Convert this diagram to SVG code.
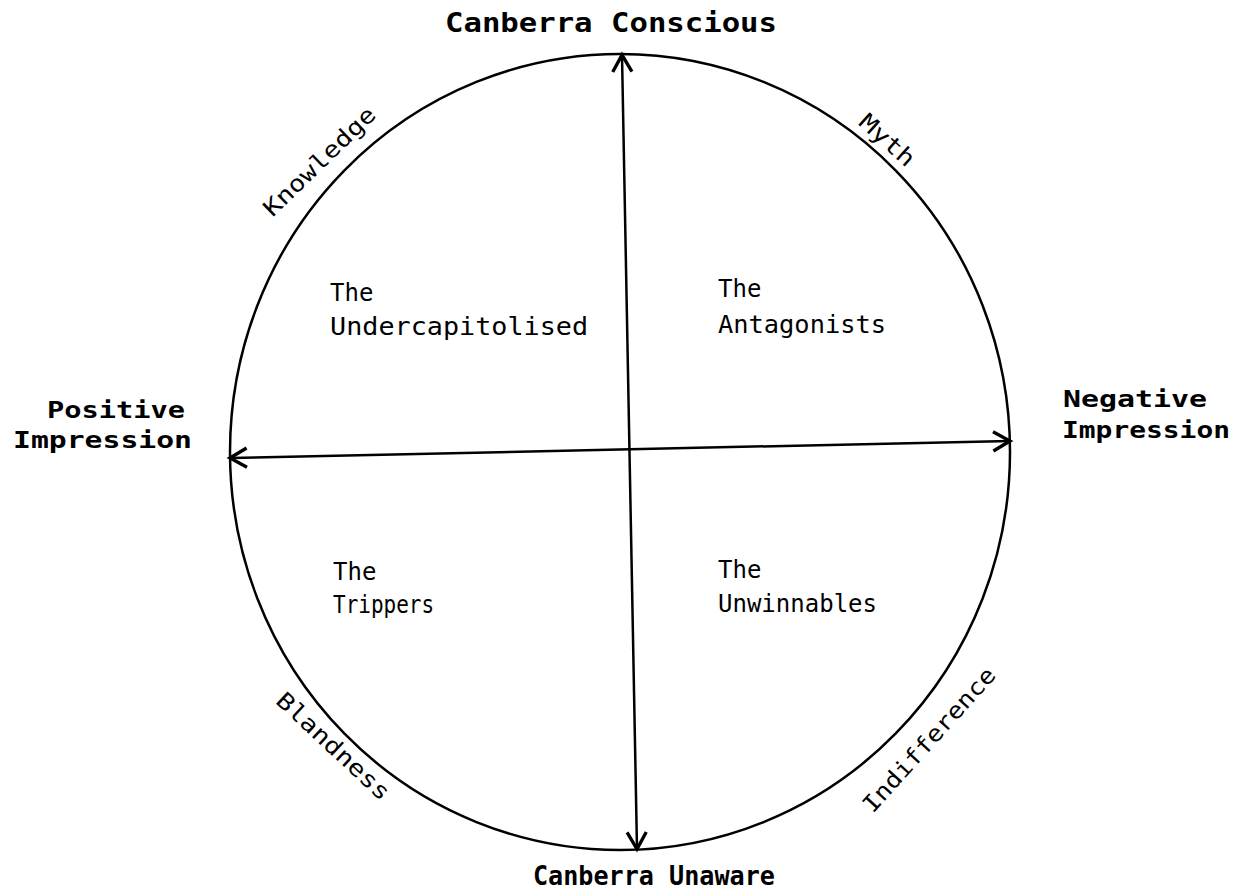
<svg xmlns="http://www.w3.org/2000/svg" width="1243" height="893" viewBox="0 0 1243 893">
<style>
.ax{font-family:"DejaVu Sans Mono","Liberation Mono",monospace;font-weight:bold;font-size:27px;fill:#000}
.ax2{font-family:"DejaVu Sans Mono","Liberation Mono",monospace;font-weight:bold;font-size:23px;fill:#000}
.q{font-family:"DejaVu Sans Mono","Liberation Mono",monospace;font-size:24px;fill:#000}
.arc{font-family:"DejaVu Sans Mono","Liberation Mono",monospace;font-size:23px;fill:#000}
.ln{stroke:#000;stroke-width:2.5;fill:none}
</style>
<defs>
<marker id="ah" markerUnits="userSpaceOnUse" markerWidth="24" markerHeight="24" refX="16" refY="10" orient="auto-start-reverse" viewBox="0 0 20 20">
<path d="M2,2 L16,10 L2,18" fill="none" stroke="#000" stroke-width="2.8"/>
</marker>
</defs>
<rect width="1243" height="893" fill="#fff"/>
<g id="circle">
<ellipse class="ln" cx="620" cy="452" rx="390" ry="398"/>
</g>
<g id="connectors">
<line class="ln" x1="622" y1="55" x2="637" y2="849" marker-start="url(#ah)" marker-end="url(#ah)"/>
<line class="ln" x1="230" y1="458" x2="1010" y2="441" marker-start="url(#ah)" marker-end="url(#ah)"/>
</g>
<g id="top"><text class="ax" x="445" y="32" textLength="332" lengthAdjust="spacingAndGlyphs">Canberra Conscious</text></g>
<g id="bottom"><text class="ax" x="533" y="885" textLength="242" lengthAdjust="spacingAndGlyphs">Canberra Unaware</text></g>
<g id="left">
<text class="ax2" x="47" y="418" textLength="138" lengthAdjust="spacingAndGlyphs">Positive</text>
<text class="ax2" x="13" y="448" textLength="179" lengthAdjust="spacingAndGlyphs">Impression</text>
</g>
<g id="right">
<text class="ax2" x="1063" y="407" textLength="144" lengthAdjust="spacingAndGlyphs">Negative</text>
<text class="ax2" x="1062" y="438" textLength="168" lengthAdjust="spacingAndGlyphs">Impression</text>
</g>
<g id="undercapitolised">
<text class="q" x="330" y="301">The</text>
<text class="q" x="330" y="335" textLength="258" lengthAdjust="spacingAndGlyphs">Undercapitolised</text>
</g>
<g id="antagonists">
<text class="q" x="718" y="297">The</text>
<text class="q" x="718" y="333" textLength="168" lengthAdjust="spacingAndGlyphs">Antagonists</text>
</g>
<g id="trippers">
<text class="q" x="333" y="580">The</text>
<text class="q" x="333" y="613" textLength="101" lengthAdjust="spacingAndGlyphs">Trippers</text>
</g>
<g id="unwinnables">
<text class="q" x="718" y="578">The</text>
<text class="q" x="718" y="612" textLength="159" lengthAdjust="spacingAndGlyphs">Unwinnables</text>
</g>
<g id="knowledge"><text class="arc" text-anchor="middle" transform="translate(325,167) rotate(-44)" textLength="146" lengthAdjust="spacingAndGlyphs">Knowledge</text></g>
<g id="myth"><text class="arc" text-anchor="middle" transform="translate(882,146) rotate(42)" textLength="66" lengthAdjust="spacingAndGlyphs">Myth</text></g>
<g id="blandness"><text class="arc" text-anchor="middle" transform="translate(328,752) rotate(43)" textLength="146" lengthAdjust="spacingAndGlyphs">Blandness</text></g>
<g id="indifference"><text class="arc" text-anchor="middle" transform="translate(935,745) rotate(-48)" textLength="186" lengthAdjust="spacingAndGlyphs">Indifference</text></g>
</svg>
